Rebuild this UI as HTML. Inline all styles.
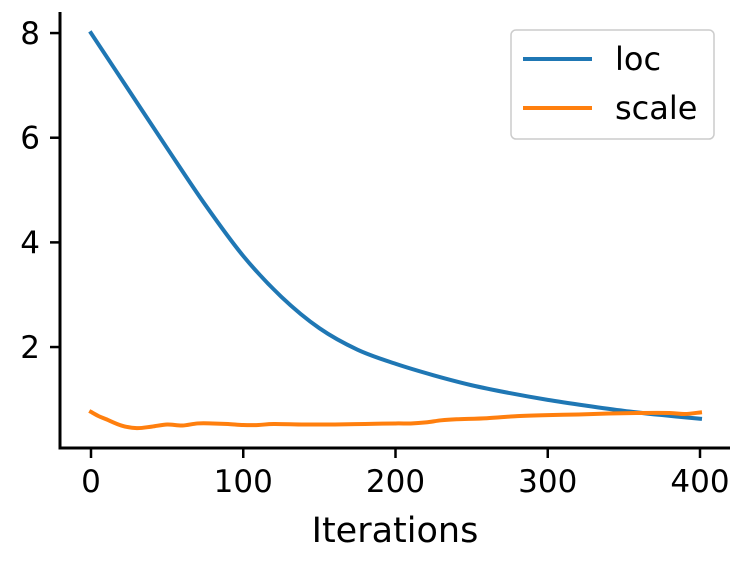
<!DOCTYPE html>
<html><head><meta charset="utf-8"><style>
body{margin:0;background:#fff;}
svg text{font-family:"DejaVu Sans","Liberation Sans",sans-serif;fill:#000;}
</style></head><body>
<svg id="chart" width="745" height="563" xmlns="http://www.w3.org/2000/svg">
<g id="plot"></g>
</svg>
<script>
const locIters=[0,25,50,75,100,125,150,175,200,225,250,275,300,325,350,375,400];
const locValues=[8,6.9,5.8,4.72,3.74,2.96,2.36,1.95,1.68,1.46,1.27,1.12,0.99,0.88,0.78,0.7,0.63];
const scaleIters=[0,5,10,20,30,40,50,60,70,80,90,100,110,120,140,160,180,200,210,220,230,240,260,280,300,320,340,360,380,390,400];
const scaleValues=[0.76,0.68,0.62,0.5,0.45,0.48,0.52,0.5,0.54,0.54,0.53,0.51,0.51,0.53,0.52,0.52,0.53,0.54,0.54,0.56,0.6,0.62,0.64,0.68,0.7,0.71,0.73,0.74,0.74,0.72,0.75];
const xTicks=[0,100,200,300,400];
const yTicks=[2,4,6,8];
const NS="http://www.w3.org/2000/svg";
const g=document.getElementById('plot');
const X=v=>91+v*(700-91)/400;
const Y=v=>451.7-v*52.33;
function mk(t,a){const e=document.createElementNS(NS,t);for(const k in a)e.setAttribute(k,a[k]);g.appendChild(e);return e;}
function smooth(xs,ys){
 const p=xs.map((x,i)=>[X(x),Y(ys[i])]);
 let d='M'+p[0][0]+','+p[0][1];
 for(let i=0;i<p.length-1;i++){
  const p0=p[i-1]||p[i],p1=p[i],p2=p[i+1],p3=p[i+2]||p2;
  const c1=[p1[0]+(p2[0]-p0[0])/6,p1[1]+(p2[1]-p0[1])/6];
  const c2=[p2[0]-(p3[0]-p1[0])/6,p2[1]-(p3[1]-p1[1])/6];
  d+=' C'+c1+' '+c2+' '+p2;
 }
 return d;
}
let e;
e=mk('line',{x1:60,y1:12,x2:60,y2:449.5,stroke:'#000','stroke-width':3});


e=mk('line',{x1:58.5,y1:448,x2:730,y2:448,stroke:'#000','stroke-width':3});


xTicks.forEach(v=>{
 e=mk('line',{x1:X(v),y1:448,x2:X(v),y2:458,stroke:'#000','stroke-width':2.5});
 
 
 e=mk('text',{x:X(v),y:492,'font-size':31,'text-anchor':'middle'});e.textContent=v;
 
 
});
yTicks.forEach(v=>{
 e=mk('line',{x1:50,y1:Y(v),x2:60,y2:Y(v),stroke:'#000','stroke-width':2.5});
 
 
 e=mk('text',{x:40,y:Y(v)+11,'font-size':31,'text-anchor':'end'});e.textContent=v;
 
 
});
e=mk('text',{x:395,y:542,'font-size':35,'text-anchor':'middle'});e.textContent='Iterations';


e=mk('path',{d:smooth(locIters,locValues),fill:'none',stroke:'#1f77b4','stroke-width':4,'stroke-linejoin':'round','stroke-linecap':'square'});


e=mk('path',{d:smooth(scaleIters,scaleValues),fill:'none',stroke:'#ff7f0e','stroke-width':4,'stroke-linejoin':'round','stroke-linecap':'square'});


e=mk('rect',{x:511,y:30,width:203,height:109,rx:5,fill:'#fff','fill-opacity':0.8,stroke:'#ccc','stroke-width':1.5});


[['loc','#1f77b4',59],['scale','#ff7f0e',108]].forEach(([n,c,y])=>{
 e=mk('line',{x1:523,y1:y,x2:592,y2:y,stroke:c,'stroke-width':4});
 
 
 e=mk('text',{x:615,y:y+11,'font-size':32});e.textContent=n;
 
 
});
</script>
</body></html>
